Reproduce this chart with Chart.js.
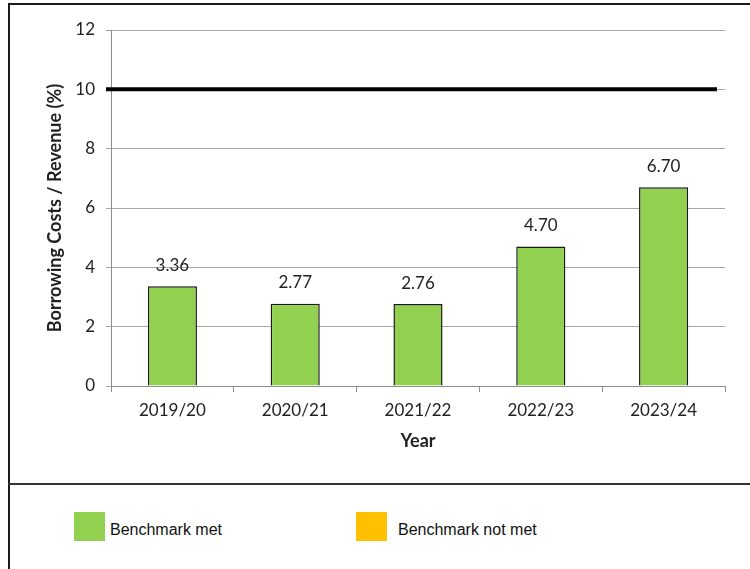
<!DOCTYPE html>
<html>
<head>
<meta charset="utf-8">
<script src="https://cdn.jsdelivr.net/npm/chart.js@4.4.1/dist/chart.umd.min.js"></script>
<style>
  html, body { margin: 0; padding: 0; background: #fff; }
  body { width: 750px; height: 569px; position: relative; overflow: hidden; }
  #frame { position: absolute; left: 8px; top: 3px; width: 800px; height: 600px; border: 2px solid #1a1a1a; box-sizing: border-box; }
  #divider { position: absolute; left: 8px; top: 483px; width: 760px; height: 0; border-top: 2px solid #333; }
  #chart { position: absolute; left: 0; top: 0; }
  .sw { position: absolute; width: 31px; height: 29px; }
  .lt { position: absolute; font-family: "Liberation Sans", Arial, sans-serif; font-size: 16px; color: #111; line-height: 20px; }
</style>
</head>
<body>
<div id="frame"></div>
<div id="divider"></div>
<canvas id="chart" width="750" height="485"></canvas>
<div class="sw" id="sw1" style="left:74px; top:512px;"></div>
<div class="lt" id="lt1" style="left:110px; top:520px;"></div>
<div class="sw" id="sw2" style="left:356px; top:512px;"></div>
<div class="lt" id="lt2" style="left:398px; top:520px;"></div>
<script>
const CATEGORIES = ["2019/20", "2020/21", "2021/22", "2022/23", "2023/24"];
const VALUES = [3.36, 2.77, 2.76, 4.70, 6.70];
const BENCHMARK = 10;
const Y_MIN = 0, Y_MAX = 12, Y_STEP = 2;
const LEGEND_LABELS = ["Benchmark met", "Benchmark not met"];
const LEGEND_COLORS = ["#92D050", "#FFC000"];
const Y_TITLE = "Borrowing Costs / Revenue (%)";
const X_TITLE = "Year";

document.getElementById('sw1').style.background = LEGEND_COLORS[0];
document.getElementById('sw2').style.background = LEGEND_COLORS[1];
document.getElementById('lt1').textContent = LEGEND_LABELS[0];
document.getElementById('lt2').textContent = LEGEND_LABELS[1];

const FONT = "Lato, 'Open Sans', sans-serif";

const overlay = {
  id: 'overlay',
  afterDatasetsDraw(chart) {
    const ctx = chart.ctx;
    const y = chart.scales.y;
    const area = chart.chartArea;
    // benchmark line
    const by = y.getPixelForValue(BENCHMARK);
    ctx.save();
    ctx.strokeStyle = '#000';
    ctx.lineWidth = 4;
    ctx.beginPath();
    ctx.moveTo(area.left - 5, by);
    ctx.lineTo(area.right - 8, by);
    ctx.stroke();
    // data labels
    ctx.fillStyle = '#222';
    ctx.font = "17px " + FONT;
    ctx.textAlign = 'center';
    ctx.textBaseline = 'middle';
    chart.getDatasetMeta(0).data.forEach((bar, i) => {
      ctx.fillText(VALUES[i].toFixed(2), bar.x, bar.y - 21);
    });
    ctx.restore();
  }
};

new Chart(document.getElementById('chart'), {
  type: 'bar',
  data: {
    labels: CATEGORIES,
    datasets: [{
      data: VALUES,
      backgroundColor: LEGEND_COLORS[0],
      borderColor: '#1a1a1a',
      borderWidth: 1.5,
      barPercentage: 0.4,
      categoryPercentage: 1.0
    }]
  },
  options: {
    responsive: false,
    animation: false,
    layout: { padding: { top: 30, right: 25, left: 0, bottom: 0 } },
    plugins: { legend: { display: false }, tooltip: { enabled: false } },
    scales: {
      x: {
        afterFit(s) { s.height = 99; },
        grid: { display: true, drawOnChartArea: false, drawTicks: true, tickLength: 6, color: '#8c8c8c' },
        border: { display: true, color: '#8c8c8c' },
        ticks: { color: '#222', font: { family: FONT, size: 17 }, padding: 8 },
        title: { display: true, text: X_TITLE, color: '#222', font: { family: FONT, size: 18, weight: 'bold' }, padding: { top: 0, bottom: 33 } }
      },
      y: {
        min: Y_MIN, max: Y_MAX,
        afterFit(s) { s.width = 111; },
        grid: { color: '#a6a6a6', tickLength: 5, lineWidth: 1 },
        border: { display: true, color: '#8c8c8c' },
        ticks: { stepSize: Y_STEP, color: '#222', font: { family: FONT, size: 17 }, padding: 11 },
        title: { display: true, text: Y_TITLE, color: '#222', font: { family: FONT, size: 18, weight: 'bold' }, padding: { top: 44, bottom: 0 } }
      }
    }
  },
  plugins: [overlay]
});
</script>
</body>
</html>
